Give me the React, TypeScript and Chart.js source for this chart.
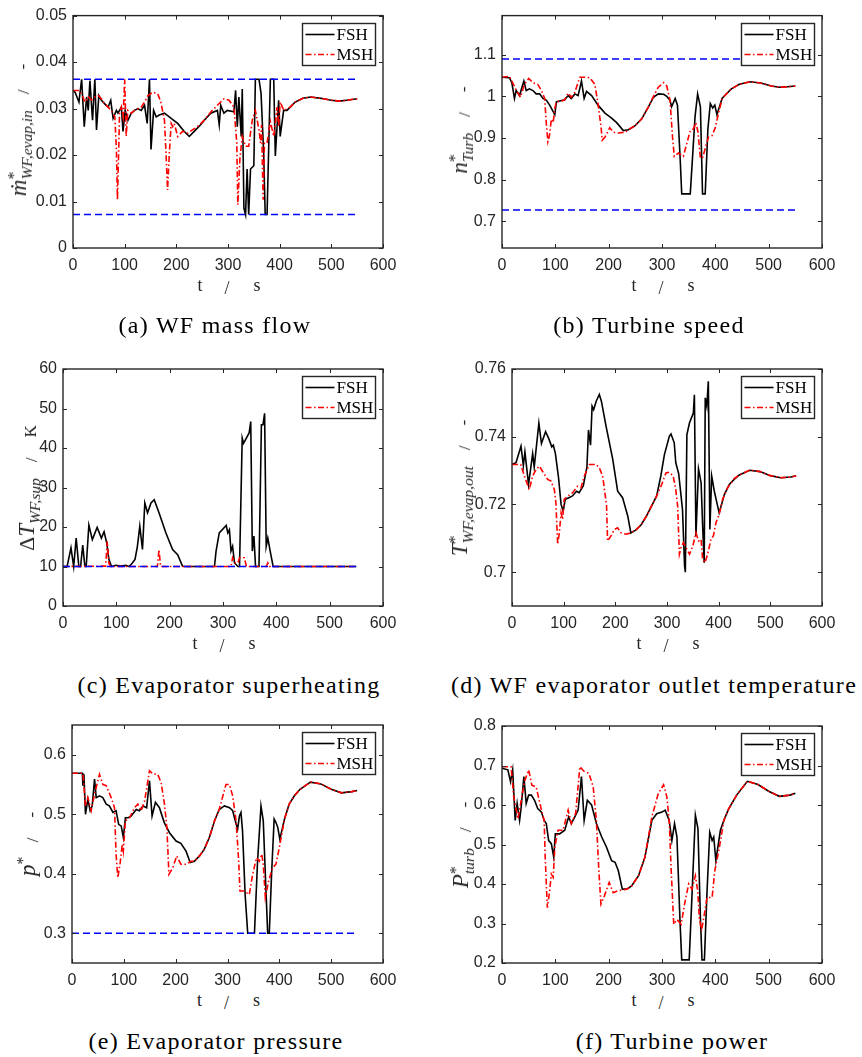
import React, { useEffect, useRef } from "react";
import { Chart, registerables } from "chart.js";
Chart.register(...registerables);

// ---------------- data ----------------
const xTicks = [0, 100, 200, 300, 400, 500, 600];
const limitT = [0, 550];

// (a) WF mass flow
const aYTicks = [0, 0.01, 0.02, 0.03, 0.04, 0.05];
const aLimits = [0.0363, 0.0072];
const aFshT = [0,4,11.5,16.7,21.8,26.3,29.5,32.7,37.8,42.3,45.5,50,55,61.5,68,73,77.6,84,87,93.6,96.8,101,106.4,112.8,119.2,125.6,132,138.5,143.6,148,151,156,161,167,177,190,202.6,215,225,234.6,247,254,266.7,279.5,283,286,292,298.7,311.5,314.7,318,321,325.6,327.6,330.8,334,337,340,343.6,350,353,360,364,369,372,375.6,382,388.5,391.6,398,401,407.7,414,420.5,430,445,460,480,500,515,530,550];
const aFshV = [0.0338,0.0335,0.0314,0.0363,0.0261,0.0325,0.0296,0.036,0.0275,0.0363,0.0254,0.0328,0.0318,0.031,0.0303,0.0318,0.0279,0.0296,0.029,0.0303,0.0251,0.0296,0.0275,0.029,0.0296,0.03,0.0296,0.0307,0.0268,0.0363,0.0212,0.0296,0.0282,0.0286,0.029,0.0279,0.0268,0.0251,0.024,0.0251,0.0265,0.0275,0.029,0.0296,0.0265,0.0307,0.029,0.0296,0.0293,0.0339,0.0261,0.0325,0.024,0.0342,0.0086,0.0072,0.017,0.0072,0.017,0.0177,0.0363,0.0363,0.0332,0.0205,0.0072,0.0072,0.0363,0.0363,0.0198,0.0318,0.024,0.0296,0.0296,0.0303,0.0314,0.0322,0.0325,0.0322,0.0318,0.0316,0.0318,0.0321];
const aMshT = [0,10,16.7,23,29.5,36,42,48.7,55,61.5,68,74,81,84,86,88.5,90,93.6,97,100,103,106,113,119,126,132,138.5,145,154.5,164,170,177,180,183,186.5,190,193,196,202.6,212,222,231,241,254,267,279.5,292,302,311.5,317,319,323,327.6,334,340,347,353,360,363,365,368,370.5,375.6,382,388.5,395,398,401,408,420.5,430,445,460,480,500,515,530,550];
const aMshV = [0.0339,0.0339,0.0332,0.0314,0.0325,0.0318,0.0325,0.0328,0.0321,0.031,0.0303,0.0296,0.0282,0.0212,0.0104,0.0212,0.029,0.0303,0.0282,0.0363,0.024,0.0296,0.029,0.0296,0.03,0.0303,0.0314,0.0328,0.0335,0.0332,0.0314,0.0275,0.0205,0.0125,0.0205,0.0268,0.0261,0.0268,0.024,0.0251,0.0247,0.0254,0.0261,0.0275,0.0293,0.0307,0.0321,0.0318,0.0303,0.0226,0.0093,0.0191,0.024,0.0219,0.0219,0.0275,0.0296,0.0254,0.0226,0.0265,0.0104,0.0226,0.0226,0.0272,0.024,0.0303,0.0261,0.0314,0.0296,0.0303,0.0314,0.0322,0.0325,0.0322,0.0318,0.0316,0.0318,0.0321];

// (b) Turbine speed
const bYTicks = [0.7, 0.8, 0.9, 1, 1.1];
const bLimits = [1.09, 0.727];
const bFshT = [0,14,18.4,23.4,26.5,32.8,41,45.4,51.6,58,64,70.5,76.8,83,89.4,95.7,99,102,108,117.6,124,130,136.5,142.7,149,154,158.5,168,180,193,205.5,215,227.5,237,249,262,274.6,284,293,303,309,315,318,324.7,329,334,337,353,362,366.8,372,376,381,386,390.6,395,399,403,412.6,420,430,445,465,485,505,520,535,550];
const bFshV = [1.046,1.045,1.033,0.995,1.014,1.002,1.037,1.014,1.018,1.014,1.006,1.006,0.995,0.991,0.979,0.964,0.956,0.987,0.989,0.992,1.002,0.995,1.006,1.002,1.037,0.995,1.012,1.002,0.979,0.96,0.948,0.937,0.918,0.92,0.929,0.946,0.975,0.998,1.006,1.005,1.0,0.991,0.975,0.995,0.979,0.852,0.766,0.766,0.952,1.006,0.975,0.766,0.766,0.921,0.983,0.972,0.979,0.956,0.995,1.005,1.018,1.029,1.035,1.032,1.025,1.022,1.023,1.025];
const bMshT = [0,14,20,26.5,34.7,42,50,58,67,74,80,83,86,89,92.5,96,99,102,111,117.6,124,130,136.5,146,155,164.6,174,180,185.5,188,193,202,209,218,231,237,249,262,274.6,284,293,303,309,315,320,323,331,340,346.5,353,359,363.6,367.5,372,376,381,387,394,400,406,413,420,430,445,465,485,505,520,535,550];
const bMshV = [1.046,1.048,1.033,1.015,0.998,1.029,1.043,1.033,1.029,1.014,0.995,0.937,0.891,0.906,0.945,0.937,0.972,0.987,0.989,0.992,1.008,0.998,1.01,1.046,1.046,1.045,1.029,0.983,0.929,0.895,0.902,0.925,0.914,0.912,0.914,0.92,0.929,0.946,0.975,1.0,1.022,1.033,1.025,0.991,0.898,0.856,0.864,0.856,0.887,0.918,0.922,0.937,0.914,0.852,0.852,0.875,0.902,0.906,0.925,0.96,0.995,1.005,1.018,1.029,1.035,1.032,1.025,1.022,1.023,1.025];

// (c) Evaporator superheating
const cYTicks = [0, 10, 20, 30, 40, 50, 60];
const cLimits = [10];
const cFshT = [0,7.7,15,20,24.7,29.7,33,37,41,43.5,48.5,55,64,72,77,82,86,91,99,108,117.6,124,130,135,139.5,144,149,153.4,158.5,165,171,180,193,205.5,215,224,227,284,287,293,306,309,312,315,318,321.6,328,331,336,338.5,349,352,355,358,361,367.5,372,375,378,381,384,389,394,400,550];
const cFshV = [10,10,14.7,10,17.2,10,10,15.4,10,10,20.5,16.8,19.9,17.2,18.8,16,11.8,10,10.3,10.1,10.3,10,10.9,11.8,15.1,20.2,14.3,26.1,23.6,26.1,26.9,23.6,18.5,14.3,13,10.1,10,10,13.9,18.5,20.4,18.5,19.3,13.9,15.1,10.9,10,10,42.5,41.2,43.8,46.7,13.9,17.7,10,10,45.9,45.9,48.8,15.1,17.2,13.5,10,10,10];
const cMshT = [0,80,83,86,89,177,180,183,315,318,323,328,331,340,344,381,384,387,550];
const cMshV = [10,10.1,16.4,10.9,10,10,14.3,10,10,12.2,10.9,10.9,12.2,12.2,10,10,10.9,10,10];

// (d) WF evaporator outlet temperature
const dYTicks = [0.7, 0.72, 0.74, 0.76];
const dLimits: number[] = [];
const dFshT = [0,7.7,17.4,22,25,32,40,43,52,57,65,71,77,80,84,90,95,99,103,110,117,125,130,138,145,148,152,155,158,163,169,173,182,195,204.5,214,224,230,240,250,260,270,280,288,295,304.5,307.7,314,317,322.6,330,334,335.5,338.5,343.6,351,353,356,361,366,369,372,374,377,380,383,386.5,391.6,398,401,411,420.6,430,440,460,480,500,520,540,550];
const dFshV = [0.7318,0.7323,0.7372,0.7315,0.7355,0.7259,0.735,0.731,0.744,0.738,0.7415,0.7395,0.737,0.7375,0.735,0.728,0.72,0.718,0.7215,0.722,0.7225,0.7239,0.7235,0.7255,0.731,0.742,0.7375,0.749,0.748,0.7505,0.7525,0.7505,0.7431,0.7333,0.7239,0.722,0.7166,0.7116,0.7125,0.714,0.7165,0.7195,0.7225,0.7284,0.7347,0.7401,0.7408,0.7382,0.7323,0.7291,0.7185,0.7018,0.7,0.7406,0.7441,0.747,0.7524,0.7107,0.7305,0.7264,0.7136,0.7028,0.7515,0.749,0.7564,0.7126,0.7284,0.7239,0.7195,0.7175,0.7229,0.7259,0.7274,0.7287,0.7301,0.7297,0.7285,0.7279,0.7281,0.7285];
const dMshT = [0,17,24,33.5,40,46.5,53,59,69,75.5,82,85,88.4,91.6,95,98,101,108,117,127,133.5,140,150,163,169,175.5,180.6,183,185,191.6,198,204.5,211,220.6,230,240,250,260,270,280,290,298,304.5,312,317,320.6,324,327,331.6,336.8,343.6,350,356,361,366,369,373.5,378.7,385,389.7,394.8,401,407.7,417,430,440,460,480,500,520,540,550];
const dMshV = [0.7318,0.7318,0.7284,0.7244,0.7284,0.7303,0.7313,0.7298,0.7274,0.7269,0.7244,0.7205,0.7082,0.7116,0.7175,0.7156,0.7215,0.7225,0.7234,0.7254,0.7249,0.7284,0.7318,0.7318,0.7308,0.7284,0.7225,0.7195,0.7092,0.7107,0.7126,0.7131,0.7116,0.7112,0.7116,0.7125,0.714,0.7165,0.7195,0.7225,0.726,0.7293,0.7295,0.7284,0.7244,0.7195,0.7053,0.7072,0.7087,0.7072,0.7053,0.7077,0.7116,0.7092,0.7097,0.7038,0.7028,0.7053,0.7097,0.7107,0.7146,0.7171,0.7215,0.7249,0.7276,0.7287,0.7301,0.7297,0.7285,0.7279,0.7281,0.7285];

// (e) Evaporator pressure
const eYTicks = [0.3, 0.4, 0.5, 0.6];
const eLimits = [0.3];
const eFshT = [0,20,21,23,26,30.6,35,39,43.5,46.7,53,59.5,66,72,79,85,90,95,99,103,108,114,124,130,137,144,149.5,154.5,161,168.7,178,188,200.8,210,220,228,236,246,255,265,275,284,294,304,310,315,319.5,323,326,329,334,339,352,358,364.6,369,374,377.5,380.6,385,390,393.5,397,401,410,419,429,440,460,480,500,520,540,550];
const eFshV = [0.569,0.569,0.548,0.567,0.5,0.525,0.506,0.514,0.559,0.528,0.531,0.528,0.517,0.514,0.503,0.506,0.483,0.48,0.461,0.494,0.494,0.497,0.508,0.506,0.514,0.511,0.556,0.497,0.52,0.511,0.486,0.469,0.455,0.451,0.438,0.419,0.421,0.43,0.441,0.461,0.489,0.508,0.514,0.511,0.506,0.489,0.475,0.497,0.503,0.472,0.365,0.3,0.3,0.421,0.514,0.489,0.377,0.3,0.3,0.399,0.492,0.486,0.478,0.458,0.492,0.517,0.531,0.542,0.554,0.551,0.542,0.536,0.538,0.54];
const eMshT = [0,21,26,30.6,37,43.5,53,59.5,66,75.6,82,85,88.4,93,97,99,103,111,120.5,127,133.5,140,149.5,156,165.5,172,178.4,183,187,194.4,202,210,220,230,236,246,255,265,275,284,297,303.6,310,316.5,321.6,324,332.5,342,348.5,356,361.4,366,369,373,379.4,387,393.5,400,410,419,429,440,460,480,500,520,540,550];
const eMshV = [0.569,0.569,0.514,0.528,0.506,0.534,0.567,0.55,0.548,0.528,0.511,0.433,0.393,0.419,0.45,0.438,0.489,0.494,0.511,0.517,0.506,0.522,0.573,0.568,0.567,0.553,0.517,0.478,0.399,0.41,0.43,0.416,0.416,0.421,0.421,0.43,0.441,0.461,0.489,0.508,0.55,0.55,0.531,0.489,0.421,0.371,0.371,0.365,0.399,0.427,0.421,0.433,0.416,0.36,0.388,0.41,0.416,0.444,0.492,0.517,0.531,0.542,0.554,0.551,0.542,0.536,0.538,0.54];

// (f) Turbine power
const fYTicks = [0.2, 0.3, 0.4, 0.5, 0.6, 0.7, 0.8];
const fLimits: number[] = [];
const fFshT = [0,11,16,20,24.7,28.4,33,36,41,45.4,50,55,61,67,74,79,83,87.5,92.5,97,100,108,117.6,125,130,136.5,142.7,149,154,160,168,177,187,196,205.5,212,218,225.6,234,243,256,268,281,290,300,306,313.5,318.5,323.5,328,334,337,351,355,362.6,367.4,372,375,379.5,384.5,389.5,394,397,401,409.5,416,425,440,460,480,500,520,540,550];
const fFshV = [0.693,0.689,0.659,0.689,0.561,0.604,0.561,0.595,0.672,0.604,0.625,0.625,0.612,0.591,0.582,0.561,0.553,0.51,0.502,0.468,0.527,0.527,0.536,0.57,0.553,0.57,0.587,0.672,0.561,0.612,0.6,0.553,0.519,0.493,0.459,0.455,0.434,0.387,0.387,0.395,0.421,0.468,0.561,0.578,0.582,0.587,0.561,0.51,0.553,0.519,0.298,0.208,0.208,0.332,0.574,0.54,0.315,0.208,0.208,0.383,0.531,0.51,0.519,0.459,0.536,0.561,0.59,0.625,0.66,0.652,0.635,0.622,0.625,0.63];
const fMshT = [0,17,22,30,35,42,50,56,64,74,79,81,85,89.4,92.5,96,99,105,114.5,124,130,138,146,154,163,171,177,181.6,185.5,192,201,208.6,218,234,243,256,268,281,293,303,309,313.5,317,322,328,336,342.3,350,356,362.6,367,370,374,378.4,384.5,394,399,406.6,416,425,440,460,480,500,520,540,550];
const fMshV = [0.697,0.697,0.621,0.565,0.604,0.659,0.689,0.65,0.646,0.587,0.561,0.468,0.34,0.383,0.425,0.417,0.493,0.536,0.536,0.587,0.553,0.578,0.697,0.685,0.68,0.646,0.561,0.434,0.349,0.37,0.404,0.378,0.383,0.387,0.395,0.421,0.468,0.57,0.629,0.651,0.621,0.561,0.442,0.298,0.31,0.298,0.349,0.4,0.387,0.421,0.383,0.315,0.281,0.315,0.366,0.366,0.434,0.485,0.561,0.59,0.625,0.66,0.652,0.635,0.622,0.625,0.63];

// ---------------- layout / styles ----------------
const AXIS_COLOR = "#262626";
const TICK_FONT = { family: '"Liberation Sans", Arial, Helvetica, sans-serif', size: 16 };
const SERIF = '"Liberation Serif", "Times New Roman", serif';
const MSH_DASH = [6, 2.5, 1.5, 2.5];

type YLab = { main: string; mainUpright?: string; sup?: string; sub?: string; unit: string; cx: number };

interface Panel {
  id: string;
  box: { cx: number; cy: number; cw: number; ch: number };
  area: { l: number; t: number; r: number; b: number };
  yMin: number;
  yMax: number;
  yTicks: number[];
  fsh: [number[], number[]];
  msh: [number[], number[]];
  limits: number[];
  caption: string;
  capX: number;
  capY: number;
  ylab: YLab;
}

const panels: Panel[] = [
  { id: "a", box: { cx: 0, cy: 0, cw: 431, ch: 300 }, area: { l: 73, t: 11, r: 383, b: 248 },
    yMin: 0, yMax: 0.05, yTicks: aYTicks, fsh: [aFshT, aFshV], msh: [aMshT, aMshV], limits: aLimits,
    caption: "(a) WF mass flow", capX: 215, capY: 325,
    ylab: { main: "ṁ", sup: "*", sub: "WF,evap,in", unit: "-", cx: 19 } },
  { id: "b", box: { cx: 431, cy: 0, cw: 431, ch: 300 }, area: { l: 502, t: 11, r: 822, b: 248 },
    yMin: 0.636, yMax: 1.194, yTicks: bYTicks, fsh: [bFshT, bFshV], msh: [bMshT, bMshV], limits: bLimits,
    caption: "(b) Turbine speed", capX: 649, capY: 325,
    ylab: { main: "n", sup: "*", sub: "Turb", unit: "-", cx: 460 } },
  { id: "c", box: { cx: 0, cy: 340, cw: 431, ch: 300 }, area: { l: 63, t: 369, r: 383, b: 606 },
    yMin: 0, yMax: 60, yTicks: cYTicks, fsh: [cFshT, cFshV], msh: [cMshT, cMshV], limits: cLimits,
    caption: "(c) Evaporator superheating", capX: 229, capY: 685,
    ylab: { mainUpright: "Δ", main: "T", sub: "WF,sup", unit: "K", cx: 27 } },
  { id: "d", box: { cx: 431, cy: 340, cw: 431, ch: 300 }, area: { l: 512, t: 369, r: 822, b: 606 },
    yMin: 0.69, yMax: 0.76, yTicks: dYTicks, fsh: [dFshT, dFshV], msh: [dMshT, dMshV], limits: dLimits,
    caption: "(d) WF evaporator outlet temperature", capX: 654, capY: 685,
    ylab: { main: "T", sup: "*", sub: "WF,evap,out", unit: "-", cx: 460 } },
  { id: "e", box: { cx: 0, cy: 690, cw: 431, ch: 300 }, area: { l: 72, t: 725, r: 383, b: 963 },
    yMin: 0.25, yMax: 0.65, yTicks: eYTicks, fsh: [eFshT, eFshV], msh: [eMshT, eMshV], limits: eLimits,
    caption: "(e) Evaporator pressure", capX: 216, capY: 1041,
    ylab: { main: "p", sup: "*", unit: "-", cx: 28 } },
  { id: "f", box: { cx: 431, cy: 690, cw: 431, ch: 300 }, area: { l: 502, t: 726, r: 822, b: 963 },
    yMin: 0.2, yMax: 0.8, yTicks: fYTicks, fsh: [fFshT, fFshV], msh: [fMshT, fMshV], limits: fLimits,
    caption: "(f) Turbine power", capX: 672, capY: 1041,
    ylab: { main: "P", sup: "*", sub: "turb", unit: "-", cx: 461 } },
];

const pts = (t: number[], v: number[]) => t.map((x, i) => ({ x, y: v[i] }));
const fmt = (v: number) => String(Number(Number(v).toFixed(6)));

const framePlugin = {
  id: "matlabFrame",
  afterDatasetsDraw(chart: any) {
    const { ctx, chartArea: ca, scales } = chart;
    const xs = scales.x, ys = scales.y;
    ctx.save();
    ctx.setLineDash([]);
    ctx.strokeStyle = AXIS_COLOR;
    ctx.lineWidth = 1;
    const tl = 4;
    ctx.beginPath();
    for (const tk of xs.ticks) {
      const px = Math.round(xs.getPixelForValue(tk.value)) + 0.5;
      ctx.moveTo(px, ca.bottom); ctx.lineTo(px, ca.bottom - tl);
      ctx.moveTo(px, ca.top); ctx.lineTo(px, ca.top + tl);
    }
    for (const tk of ys.ticks) {
      const py = Math.round(ys.getPixelForValue(tk.value)) + 0.5;
      ctx.moveTo(ca.left, py); ctx.lineTo(ca.left + tl, py);
      ctx.moveTo(ca.right, py); ctx.lineTo(ca.right - tl, py);
    }
    ctx.stroke();
    ctx.lineWidth = 1.4;
    ctx.strokeRect(ca.left, ca.top, ca.right - ca.left, ca.bottom - ca.top);

    // inset legend
    const entries = chart.data.datasets.filter((d: any) => d.label);
    entries.sort((p: any, q: any) => q.order - p.order);
    const bw = 73, bh = 42;
    const bx = Math.round(ca.right - 8 - bw) + 0.5, by = Math.round(ca.top + 7) + 0.5;
    ctx.fillStyle = "#ffffff";
    ctx.fillRect(bx, by, bw, bh);
    ctx.strokeStyle = AXIS_COLOR;
    ctx.lineWidth = 1.4;
    ctx.strokeRect(bx, by, bw, bh);
    entries.forEach((ds: any, i: number) => {
      const y = by + 11 + i * 20;
      ctx.beginPath();
      ctx.strokeStyle = ds.borderColor;
      ctx.lineWidth = 1.6;
      ctx.setLineDash(ds.borderDash || []);
      ctx.moveTo(bx + 3, y); ctx.lineTo(bx + 32, y);
      ctx.stroke();
      ctx.setLineDash([]);
      ctx.fillStyle = "#000000";
      ctx.font = `17px ${SERIF}`;
      ctx.textBaseline = "middle";
      ctx.textAlign = "left";
      ctx.fillText(ds.label, bx + 34, y + 1);
    });
    ctx.restore();
  },
};

function PanelChart({ p }: { p: Panel }) {
  const ref = useRef<HTMLCanvasElement>(null);
  useEffect(() => {
    const { cx, cy, cw, ch } = p.box;
    const { l, t, r, b } = p.area;
    const datasets: any[] = [
      ...p.limits.map((v) => ({
        data: limitT.map((x) => ({ x, y: v })),
        borderColor: "#0000ff", borderWidth: 1.5, borderDash: [7, 4], pointRadius: 0, order: 0,
      })),
      { label: "MSH", data: pts(p.msh[0], p.msh[1]), borderColor: "#ff0000", borderWidth: 1.6,
        borderDash: MSH_DASH, pointRadius: 0, order: 1 },
      { label: "FSH", data: pts(p.fsh[0], p.fsh[1]), borderColor: "#000000", borderWidth: 1.6,
        pointRadius: 0, order: 2 },
    ];
    const chart = new Chart(ref.current as HTMLCanvasElement, {
      type: "line",
      data: { datasets },
      options: {
        animation: false,
        responsive: false,
        devicePixelRatio: 1,
        layout: { padding: { top: t - cy, right: cx + cw - r, left: 0, bottom: 0 } },
        plugins: { legend: { display: false }, tooltip: { enabled: false } },
        elements: { line: { tension: 0 } },
        scales: {
          x: {
            type: "linear", min: 0, max: 600,
            grid: { display: false, drawTicks: false },
            border: { display: false },
            ticks: { font: TICK_FONT, color: AXIS_COLOR, padding: 8, maxRotation: 0, autoSkip: false,
              callback: (v: any) => fmt(v) },
            afterBuildTicks: (s: any) => { s.ticks = xTicks.map((value) => ({ value })); },
            afterFit: (s: any) => { s.height = cy + ch - b; },
          },
          y: {
            type: "linear", min: p.yMin, max: p.yMax,
            grid: { display: false, drawTicks: false },
            border: { display: false },
            ticks: { font: TICK_FONT, color: AXIS_COLOR, padding: 6, autoSkip: false,
              callback: (v: any) => fmt(v) },
            afterBuildTicks: (s: any) => { s.ticks = p.yTicks.map((value) => ({ value })); },
            afterFit: (s: any) => { s.width = l - cx; },
          },
        },
      } as any,
      plugins: [framePlugin as any],
    });
    return () => chart.destroy();
  }, [p]);
  const { cx, cy, cw, ch } = p.box;
  return (
    <canvas ref={ref} width={cw} height={ch}
      style={{ position: "absolute", left: cx, top: cy, width: cw, height: ch }} />
  );
}

function YLabel({ p }: { p: Panel }) {
  const { ylab } = p;
  const cy = (p.area.t + p.area.b) / 2;
  return (
    <div style={{
      position: "absolute", left: ylab.cx, top: cy, transform: "translate(-50%,-50%) rotate(-90deg)",
      whiteSpace: "nowrap", fontFamily: SERIF, color: AXIS_COLOR, lineHeight: "26px", height: 26,
    }}>
      {ylab.mainUpright ? <span style={{ fontSize: 22 }}>{ylab.mainUpright}</span> : null}
      <span style={{ fontStyle: "italic", fontSize: 23 }}>{ylab.main}</span>
      <span style={{ position: "relative", display: "inline-block" }}>
        <span style={{ fontStyle: "italic", fontSize: 15.5, position: "relative", top: 6 }}>
          {ylab.sub ? ylab.sub : "\u2009\u2009"}
        </span>
        {ylab.sup ? (
          <span style={{ position: "absolute", left: 0, top: -7, fontSize: 16 }}>{ylab.sup}</span>
        ) : null}
      </span>
      <span style={{ fontSize: 17, marginLeft: 16, position: "relative", top: 3 }}>/</span>
      <span style={{ fontSize: 17, marginLeft: 20, position: "relative", top: 2 }}>{ylab.unit}</span>
    </div>
  );
}

function XLabel({ p }: { p: Panel }) {
  const cx = (p.area.l + p.area.r) / 2;
  const base: React.CSSProperties = { position: "absolute", transform: "translateX(-50%)" };
  return (
    <div style={{ position: "absolute", left: cx, top: p.area.b + 28, fontFamily: SERIF, fontSize: 18,
      lineHeight: "18px", color: AXIS_COLOR, whiteSpace: "nowrap" }}>
      <span style={{ ...base, left: -28, top: 0 }}>t</span>
      <span style={{ ...base, left: -1, top: 3 }}>/</span>
      <span style={{ ...base, left: 29, top: 0 }}>s</span>
    </div>
  );
}

function Caption({ p }: { p: Panel }) {
  return (
    <div style={{ position: "absolute", left: p.capX, top: p.capY, transform: "translate(-50%,-50%)",
      fontFamily: SERIF, fontSize: 24, letterSpacing: "1.3px", whiteSpace: "nowrap", color: "#000",
      lineHeight: "26px" }}>
      {p.caption}
    </div>
  );
}

export default function App() {
  return (
    <div style={{ position: "absolute", left: 0, top: 0, width: 862, height: 1057, background: "#fff",
      overflow: "hidden" }}>
      {panels.map((p) => (
        <React.Fragment key={p.id}>
          <PanelChart p={p} />
          <YLabel p={p} />
          <XLabel p={p} />
          <Caption p={p} />
        </React.Fragment>
      ))}
    </div>
  );
}
